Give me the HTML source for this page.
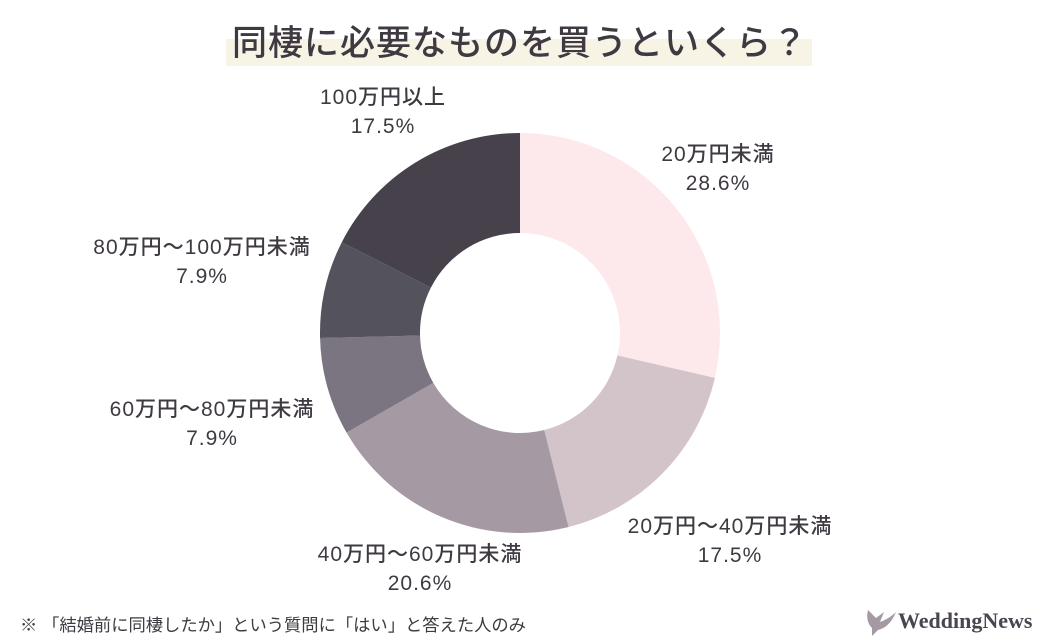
<!DOCTYPE html>
<html><head><meta charset="utf-8">
<style>
body{margin:0;background:#fff;}
#c{position:relative;width:1040px;height:642px;overflow:hidden;font-family:"Liberation Sans","Noto Sans CJK JP",sans-serif;color:#3f3a42;}
.hl{position:absolute;left:226px;top:39px;width:586px;height:27px;background:#f7f4e6;}
.title{position:absolute;left:0;width:1040px;top:20px;text-align:center;font-size:35px;line-height:48px;color:#3f3a42;letter-spacing:1px;font-weight:500;}
.lbl{position:absolute;font-size:21px;line-height:29px;text-align:center;transform:translateX(-50%);white-space:nowrap;color:#3f3a42;font-weight:500;letter-spacing:1px;}
.foot{position:absolute;left:20px;top:611px;font-size:17.3px;color:#3f3a42;}
.logo{position:absolute;left:898px;top:608px;font-family:"Liberation Serif",serif;font-weight:bold;font-size:22px;color:#4a4550;}
</style></head><body>
<div id="c">
<div class="hl"></div>
<div class="title">同棲に必要なものを買うといくら？</div>
<svg id="pie" width="1040" height="642" style="position:absolute;left:0;top:0"></svg>
<div id="labels"></div>
<div class="foot">※ 「結婚前に同棲したか」という質問に「はい」と答えた人のみ</div>
<svg style="position:absolute;left:864px;top:606px" width="34" height="30"><path d="M4 4 L12 12 L20 6 L16 16 C22 14 28 10 32 6 C28 16 22 22 14 24 L8 30 L8 22 C4 18 2 12 4 4Z" fill="#a59aa3"/></svg>
<div class="logo">WeddingNews</div>
</div>
<script>
const categories=["20万円未満","20万円〜40万円未満","40万円〜60万円未満","60万円〜80万円未満","80万円〜100万円未満","100万円以上"];
const values=[28.6,17.5,20.6,7.9,7.9,17.5];
const valueLabels=["28.6%","17.5%","20.6%","7.9%","7.9%","17.5%"];
const colors=["#fde9ec","#d3c4ca","#a59aa3","#7a7580","#54525c","#46414b"];
const labelPos=[[718,140],[730,512],[420,540],[212,395],[202,233],[383,83]];
const cx=520,cy=333,R=200,r=100;
const svg=document.getElementById('pie');
const total=values.reduce((a,b)=>a+b,0);
let acc=0;
function pt(a,rad){return [cx+rad*Math.sin(a),cy-rad*Math.cos(a)];}
values.forEach((v,i)=>{
  const a0=acc/total*2*Math.PI; acc+=v; const a1=acc/total*2*Math.PI;
  const lg=(a1-a0)>Math.PI?1:0;
  const p0=pt(a0,R),p1=pt(a1,R),q1=pt(a1,r),q0=pt(a0,r);
  const p=document.createElementNS('http://www.w3.org/2000/svg','path');
  p.setAttribute('d',`M${p0[0]},${p0[1]} A${R},${R} 0 ${lg} 1 ${p1[0]},${p1[1]} L${q1[0]},${q1[1]} A${r},${r} 0 ${lg} 0 ${q0[0]},${q0[1]} Z`);
  p.setAttribute('fill',colors[i]);
  
  
  svg.appendChild(p);
  const d=document.createElement('div');
  d.className='lbl';
  d.style.left=labelPos[i][0]+'px';d.style.top=labelPos[i][1]+'px';
  d.innerHTML=categories[i]+'<br>'+valueLabels[i];
  
  
  document.getElementById('labels').appendChild(d);
});
</script>
</body></html>
